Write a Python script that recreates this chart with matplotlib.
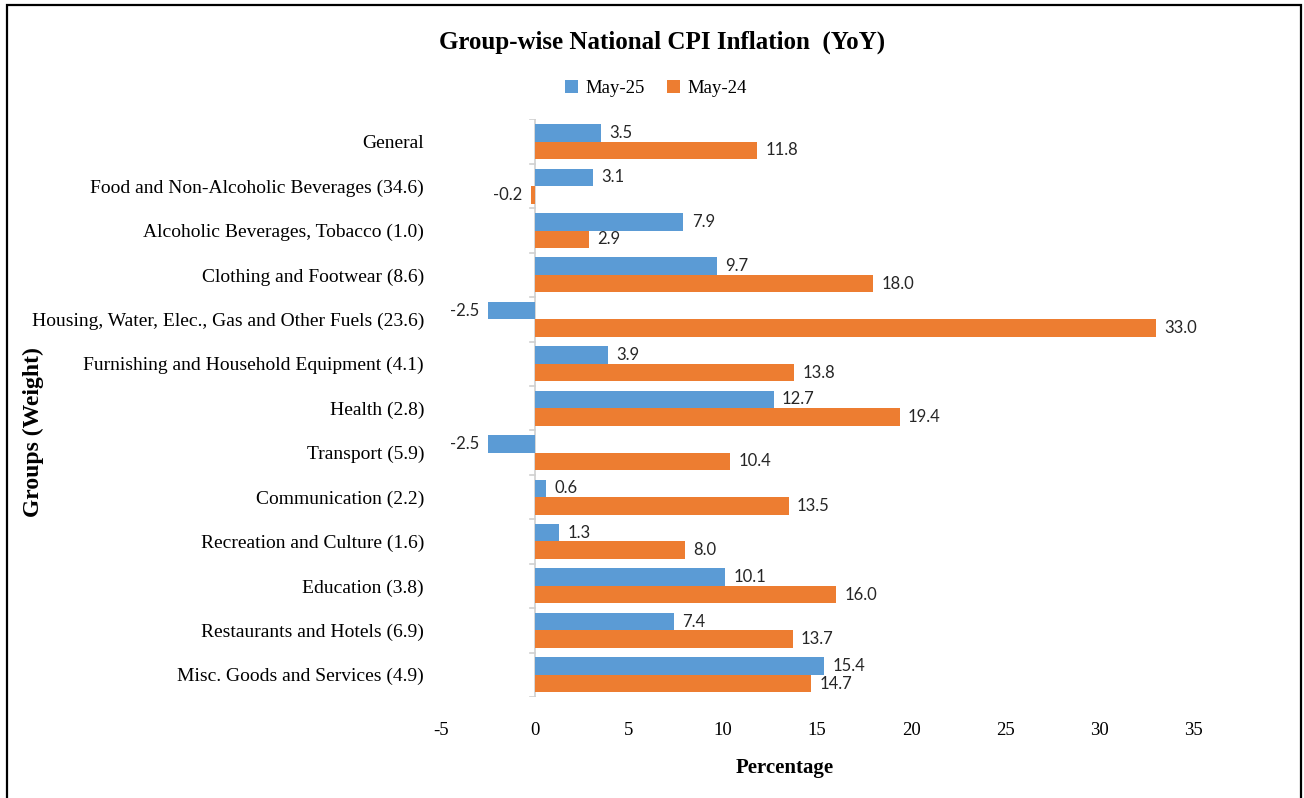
import numpy as np
import matplotlib
matplotlib.use("Agg")
import matplotlib.pyplot as plt
from matplotlib.patches import Rectangle

groups = ["General",
          "Food and Non-Alcoholic Beverages (34.6)",
          "Alcoholic Beverages, Tobacco (1.0)",
          "Clothing and Footwear (8.6)",
          "Housing, Water, Elec., Gas and Other Fuels (23.6)",
          "Furnishing and Household Equipment (4.1)",
          "Health (2.8)",
          "Transport (5.9)",
          "Communication (2.2)",
          "Recreation and Culture (1.6)",
          "Education (3.8)",
          "Restaurants and Hotels (6.9)",
          "Misc. Goods and Services (4.9)"]
may25 = [3.5, 3.1, 7.9, 9.7, -2.5, 3.9, 12.7, -2.5, 0.6, 1.3, 10.1, 7.4, 15.4]
may24 = [11.8, -0.2, 2.9, 18.0, 33.0, 13.8, 19.4, 10.4, 13.5, 8.0, 16.0, 13.7, 14.7]
xticks = [-5, 0, 5, 10, 15, 20, 25, 30, 35]

blue = "#5B9BD5"
orange = "#ED7D31"
serif = ["Liberation Serif", "DejaVu Serif"]

fig = plt.figure(figsize=(13.04, 7.98), dpi=100)
ax = fig.add_axes([0.338, 0.1266, 0.577, 0.7237])

y = np.arange(len(groups))
h = 0.395
b1 = ax.barh(y - h / 2, may25, height=h, color=blue, label="May-25")
b2 = ax.barh(y + h / 2, may24, height=h, color=orange, label="May-24")

ax.bar_label(b1, fmt="%.1f", padding=6, fontsize=12, family="Lato", color="#262626")
ax.bar_label(b2, fmt="%.1f", padding=6, fontsize=12, family="Lato", color="#262626")

ax.set_xlim(-5, 35)
ax.set_ylim(len(groups) - 0.5, -0.5)
ax.set_xticks(xticks)
ax.set_xticklabels([str(t) for t in xticks], family=serif, fontsize=13.5)
ax.set_yticks(y)
ax.set_yticklabels(groups, family=serif, fontsize=14)
ax.tick_params(axis="both", length=0)
ax.tick_params(axis="y", pad=12)
ax.tick_params(axis="x", pad=18)
for s in ax.spines.values():
    s.set_visible(False)

# zero line with small category ticks
ax.axvline(0, color="#D0D0D0", lw=1.2, zorder=0)
for b in np.arange(-0.5, len(groups), 1.0):
    ax.plot([-0.25, 0], [b, b], color="#D0D0D0", lw=1.2, zorder=0)

fig.text(0.508, 0.947, "Group-wise National CPI Inflation  (YoY)", ha="center", va="center",
         family=serif, fontsize=18, fontweight="bold")
fig.text(0.602, 0.037, "Percentage", ha="center", va="center",
         family=serif, fontsize=15, fontweight="bold")
fig.text(0.026, 0.458, "Groups (Weight)", ha="center", va="center", rotation=90,
         family=serif, fontsize=17, fontweight="bold")

fig.legend(handles=[b1, b2], loc="center", bbox_to_anchor=(0.503, 0.889), ncol=2,
           frameon=False, prop={"family": serif, "size": 13.5},
           handlelength=0.7, handleheight=0.7, handletextpad=0.4, columnspacing=1.2)

fig.patches.append(Rectangle((7 / 1304, -0.05), 1294 / 1304, 1 - 5 / 798 + 0.05,
                             transform=fig.transFigure, fill=False,
                             edgecolor="black", lw=1.6))

fig.savefig("out.png", dpi=100)
